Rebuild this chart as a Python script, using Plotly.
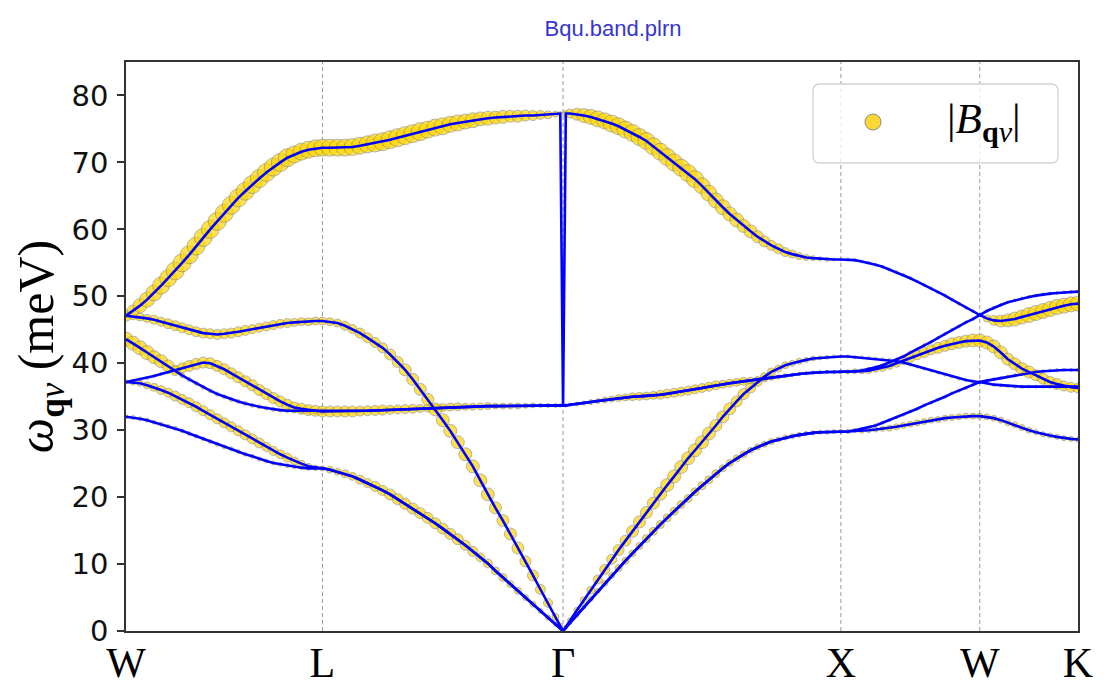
import numpy as np
import plotly.graph_objects as go

# ---- high-symmetry path (k-distance in units of 2*pi/a) ----
labels = ["W", "L", "Γ", "X", "W", "K"]
kW0 = 0.0
kL = np.sqrt(2) / 2
kG = kL + np.sqrt(3) / 2
kX = kG + 1.0
kW2 = kX + 0.5
kK = kW2 + np.sqrt(2) / 4
sym_k = [kW0, kL, kG, kX, kW2, kK]

kpath = np.concatenate([
    np.linspace(kW0, kL, 29),
    np.linspace(kL, kG, 33)[1:-1],
    [kG - 0.01, kG, kG + 0.01],
    np.linspace(kG, kX, 41)[1:],
    np.linspace(kX, kW2, 21)[1:],
    np.linspace(kW2, kK, 15)[1:],
])

# ---- phonon energies (meV): W-L | L-G | G-X | X-W | W-K ----
band6 = [47.1, 47.8, 48.6, 49.5, 50.5, 51.6, 52.7, 53.8, 55.0, 56.2, 57.5, 58.8, 60.0, 61.2, 62.4, 63.6, 64.7, 65.7, 66.7, 67.6, 68.5, 69.3, 70.0, 70.7, 71.2, 71.6, 71.9, 72.1, 72.2,
         72.2, 72.2, 72.2, 72.3, 72.5, 72.7, 72.9, 73.1, 73.4, 73.7, 74.0, 74.3, 74.6, 74.9, 75.2, 75.4, 75.7, 75.9, 76.1, 76.3, 76.5, 76.6, 76.7, 76.8, 76.9, 76.9, 77.0, 77.0, 77.1, 77.1, 77.2, 77.3, 33.7,
         77.3, 77.3, 77.2, 77.0, 76.8, 76.5, 76.2, 75.8, 75.4, 74.9, 74.4, 73.8, 73.2, 72.4, 71.6, 70.8, 70.0, 69.2, 68.4, 67.5, 66.5, 65.4, 64.3, 63.3, 62.3, 61.4, 60.5, 59.7, 58.9, 58.2, 57.6, 57.1, 56.6, 56.3, 56.0, 55.8, 55.7, 55.6, 55.5, 55.5, 55.5,
         55.5, 55.4, 55.2, 55.0, 54.7, 54.4, 54.0, 53.6, 53.2, 52.7, 52.2, 51.7, 51.2, 50.6, 50.1, 49.5, 48.9, 48.3, 47.8, 47.2,
         47.8, 48.3, 48.7, 49.1, 49.4, 49.7, 49.9, 50.1, 50.3, 50.4, 50.5, 50.6, 50.7, 50.7]
band5 = [47.1, 47.0, 46.9, 46.7, 46.5, 46.2, 45.9, 45.6, 45.3, 45.0, 44.7, 44.5, 44.4, 44.3, 44.4, 44.5, 44.7, 44.9, 45.1, 45.3, 45.5, 45.7, 45.9, 46.0, 46.1, 46.2, 46.2, 46.3, 46.3,
         46.2, 46.0, 45.6, 45.1, 44.5, 43.8, 43.1, 42.3, 41.3, 40.2, 39.0, 37.6, 36.1, 34.6, 33.1, 31.5, 29.9, 28.2, 26.4, 24.6, 22.5, 20.4, 18.4, 16.5, 14.5, 12.4, 10.4, 8.3, 6.2, 4.2, 2.1, 0.8, 0.0,
         0.6, 1.6, 3.1, 4.6, 6.1, 7.7, 9.2, 10.7, 12.1, 13.5, 14.9, 16.3, 17.7, 19.1, 20.5, 21.8, 23.1, 24.5, 25.8, 27.0, 28.2, 29.5, 30.7, 32.0, 33.2, 34.3, 35.4, 36.3, 37.2, 38.0, 38.7, 39.2, 39.7, 40.0, 40.3, 40.5, 40.7, 40.8, 40.9, 41.0, 41.0,
         41.0, 40.9, 40.9, 40.8, 40.7, 40.6, 40.5, 40.3, 40.1, 39.8, 39.5, 39.2, 38.9, 38.6, 38.3, 38.0, 37.7, 37.5, 37.3, 37.2,
         37.0, 36.8, 36.7, 36.6, 36.5, 36.5, 36.5, 36.5, 36.5, 36.5, 36.5, 36.5, 36.5, 36.5]
band4 = [43.6, 43.0, 42.3, 41.6, 40.9, 40.3, 39.6, 38.9, 38.2, 37.6, 37.0, 36.4, 35.9, 35.4, 35.0, 34.6, 34.3, 34.0, 33.7, 33.5, 33.3, 33.1, 33.0, 32.9, 32.9, 32.8, 32.8, 32.8, 32.8,
         32.8, 32.8, 32.8, 32.8, 32.85, 32.9, 32.95, 33.0, 33.05, 33.1, 33.15, 33.2, 33.25, 33.3, 33.35, 33.4, 33.45, 33.5, 33.5, 33.5, 33.55, 33.6, 33.6, 33.6, 33.6, 33.6, 33.65, 33.7, 33.7, 33.7, 33.7, 33.7, 33.7,
         33.7, 33.8, 33.9, 34.05, 34.2, 34.35, 34.5, 34.65, 34.8, 34.9, 35.0, 35.05, 35.1, 35.2, 35.3, 35.45, 35.6, 35.75, 35.9, 36.1, 36.3, 36.5, 36.7, 36.85, 37.0, 37.15, 37.3, 37.4, 37.5, 37.65, 37.8, 37.95, 38.1, 38.25, 38.4, 38.5, 38.6, 38.65, 38.7, 38.7, 38.7,
         38.7, 38.8, 38.9, 39.1, 39.4, 39.7, 40.1, 40.5, 41.0, 41.6, 42.1, 42.7, 43.2, 43.8, 44.4, 45.0, 45.5, 46.1, 46.6, 47.2,
         46.7, 46.4, 46.3, 46.4, 46.6, 46.9, 47.2, 47.5, 47.8, 48.1, 48.4, 48.6, 48.8, 48.9]
band3 = [37.2, 37.4, 37.6, 37.8, 38.1, 38.4, 38.7, 39.0, 39.3, 39.6, 39.9, 40.1, 40.0, 39.6, 39.1, 38.5, 37.9, 37.3, 36.7, 36.0, 35.4, 34.8, 34.3, 33.8, 33.4, 33.2, 33.0, 32.9, 32.8,
         32.8, 32.8, 32.8, 32.8, 32.85, 32.9, 32.95, 33.0, 33.05, 33.1, 33.15, 33.2, 33.25, 33.3, 33.35, 33.4, 33.45, 33.5, 33.5, 33.5, 33.55, 33.6, 33.6, 33.6, 33.6, 33.6, 33.65, 33.7, 33.7, 33.7, 33.7, 33.7, 33.7,
         33.7, 33.8, 33.9, 34.05, 34.2, 34.35, 34.5, 34.65, 34.8, 34.9, 35.0, 35.05, 35.1, 35.2, 35.3, 35.45, 35.6, 35.75, 35.9, 36.1, 36.3, 36.5, 36.7, 36.85, 37.0, 37.15, 37.3, 37.4, 37.5, 37.65, 37.8, 37.95, 38.1, 38.25, 38.4, 38.5, 38.6, 38.65, 38.7, 38.7, 38.7,
         38.7, 38.8, 38.8, 38.9, 39.1, 39.3, 39.6, 40.0, 40.4, 40.8, 41.2, 41.6, 42.0, 42.3, 42.6, 42.9, 43.1, 43.3, 43.4, 43.4,
         43.1, 42.5, 41.6, 40.6, 39.9, 39.2, 38.7, 38.2, 37.7, 37.2, 36.9, 36.6, 36.4, 36.3]
band2 = [37.2, 37.1, 37.0, 36.7, 36.4, 36.0, 35.6, 35.1, 34.6, 34.1, 33.5, 32.9, 32.3, 31.7, 31.1, 30.5, 29.9, 29.3, 28.7, 28.1, 27.5, 26.9, 26.4, 25.9, 25.4, 25.0, 24.6, 24.4, 24.3,
         24.1, 23.8, 23.5, 23.1, 22.6, 22.1, 21.6, 21.0, 20.4, 19.7, 19.0, 18.3, 17.6, 16.9, 16.1, 15.3, 14.5, 13.7, 12.8, 11.9, 11.0, 10.1, 9.0, 8.0, 7.0, 6.0, 5.0, 4.0, 3.0, 2.0, 1.0, 0.4, 0.0,
         0.5, 1.2, 2.4, 3.6, 4.8, 6.0, 7.1, 8.3, 9.4, 10.5, 11.6, 12.7, 13.8, 14.9, 15.9, 16.9, 17.9, 18.9, 19.8, 20.8, 21.7, 22.6, 23.5, 24.3, 25.1, 25.8, 26.4, 27.0, 27.5, 27.9, 28.3, 28.6, 28.9, 29.1, 29.3, 29.5, 29.6, 29.7, 29.7, 29.8, 29.8,
         29.8, 30.0, 30.2, 30.4, 30.7, 31.1, 31.5, 31.9, 32.3, 32.8, 33.2, 33.7, 34.1, 34.6, 35.0, 35.5, 35.9, 36.3, 36.8, 37.2,
         37.4, 37.6, 37.8, 38.0, 38.2, 38.4, 38.6, 38.7, 38.8, 38.9, 39.0, 39.0, 39.0, 39.0]
band1 = [32.0, 31.9, 31.7, 31.5, 31.2, 30.9, 30.6, 30.3, 29.9, 29.5, 29.1, 28.7, 28.3, 27.9, 27.5, 27.2, 26.8, 26.4, 26.1, 25.7, 25.4, 25.1, 24.9, 24.7, 24.5, 24.4, 24.3, 24.3, 24.3,
         24.1, 23.8, 23.5, 23.1, 22.6, 22.1, 21.6, 21.0, 20.4, 19.7, 19.0, 18.3, 17.6, 16.9, 16.1, 15.3, 14.5, 13.7, 12.8, 11.9, 11.0, 10.1, 9.0, 8.0, 7.0, 6.0, 5.0, 4.0, 3.0, 2.0, 1.0, 0.4, 0.0,
         0.5, 1.2, 2.4, 3.6, 4.8, 6.0, 7.1, 8.3, 9.4, 10.5, 11.6, 12.7, 13.8, 14.9, 15.9, 16.9, 17.9, 18.9, 19.8, 20.8, 21.7, 22.6, 23.5, 24.3, 25.1, 25.8, 26.4, 27.0, 27.5, 27.9, 28.3, 28.6, 28.9, 29.1, 29.3, 29.5, 29.6, 29.7, 29.7, 29.8, 29.8,
         29.8, 29.9, 29.9, 30.0, 30.1, 30.2, 30.3, 30.5, 30.7, 30.9, 31.1, 31.3, 31.5, 31.6, 31.8, 31.9, 32.0, 32.1, 32.1, 32.1,
         32.0, 31.8, 31.5, 31.1, 30.8, 30.4, 30.0, 29.7, 29.4, 29.2, 29.0, 28.8, 28.7, 28.6]

# ---- |B_q nu| per point, drawn as marker diameter (px) ----
bq6 = ([11, 12, 14, 15, 16, 17, 17, 18, 18, 18, 18, 18, 18, 18, 18, 18, 18, 18, 18, 18, 18, 18, 18, 18, 17, 17, 17, 17, 17] +
       [17, 17, 17, 17, 17, 17, 18, 18, 18, 18, 18, 18, 18, 17, 17, 17, 16, 16, 15, 15, 14, 14, 13, 13, 12, 12, 11, 10, 9, 8, 6, 4, 1] +
       [6, 9, 12, 14, 15, 16, 16, 17, 17, 17, 17, 17, 17, 17, 17, 17, 17, 17, 17, 17, 16, 16, 15, 15, 14, 14, 13, 13, 12, 11, 10, 10, 9, 8, 7, 6, 5, 4, 4, 3, 3] +
       [3] * 20 + [3] * 14)
bq5 = ([6, 7, 8, 8, 9, 9, 10, 10, 10, 10, 10, 10, 10, 10, 10, 10, 10, 10, 9, 9, 9, 9, 9, 9, 8, 8, 8, 8, 8] +
       [8, 8, 9, 9, 10, 10, 10, 10, 11, 11, 12, 12, 12, 12, 13, 13, 13, 13, 13, 13, 13, 13, 12, 12, 12, 12, 11, 11, 10, 9, 7, 5, 1] +
       [4, 5, 6, 7, 8, 9, 10, 10, 11, 11, 12, 12, 12, 12, 13, 13, 13, 13, 13, 13, 13, 13, 12, 12, 12, 11, 11, 10, 9, 8, 8, 7, 7, 6, 6, 5, 5, 4, 4, 3, 3] +
       [3] * 20 + [3] * 14)
bq4 = ([14, 14, 14, 14, 13, 13, 12, 10, 5, 4, 4, 4, 4, 4, 4, 4, 4, 4, 4, 4, 4, 4, 4, 4, 4, 4, 4, 5, 5] +
       [11, 11, 11, 11, 10, 10, 10, 10, 9, 9, 9, 9, 8, 8, 8, 8, 8, 8, 7, 7, 7, 7, 6, 6, 6, 6, 5, 5, 4, 4, 4, 3, 2] +
       [3] * 41 + [3] * 20 +
       [7, 10, 12, 13, 14, 14, 15, 15, 15, 15, 15, 15, 15, 15])
bq3 = ([3, 3, 3, 3, 3, 3, 4, 8, 10, 11, 11, 11, 11, 11, 11, 11, 11, 11, 11, 11, 11, 11, 11, 11, 11, 11, 11, 11, 11] +
       [3] * 32 + [2] +
       [3, 3, 4, 4, 5, 5, 6, 6, 7, 7, 8, 8, 8, 8, 9, 9, 9, 9, 9, 9, 9, 9, 9, 8, 8, 8, 8, 7, 7, 6, 5, 4, 4, 3, 3, 3, 3, 3, 3, 3, 4] +
       [4, 5, 5, 6, 6, 7, 7, 8, 8, 9, 9, 10, 10, 11, 11, 12, 12, 12, 13, 13] +
       [13, 13, 13, 12, 12, 12, 12, 11, 11, 11, 11, 10, 10, 10])
bq2 = ([4, 5, 6, 7, 8, 9, 9, 10, 10, 10, 10, 10, 10, 10, 10, 10, 10, 10, 10, 10, 9, 9, 9, 9, 8, 7, 6, 5, 5] +
       [7, 7, 8, 8, 9, 9, 10, 10, 11, 11, 11, 11, 11, 11, 11, 11, 11, 11, 10, 10, 9, 9, 8, 8, 7, 7, 6, 6, 5, 5, 4, 3, 1] +
       [3, 3, 4, 4, 5, 5, 6, 6, 7, 7, 7, 7, 8, 8, 8, 8, 8, 8, 8, 8, 8, 8, 8, 7, 7, 7, 7, 6, 6, 6, 6, 5, 5, 5, 5, 4, 4, 4, 4, 4, 4] +
       [3] * 20 + [3] * 14)
bq1 = ([4] * 29 +
       [3] * 31 + [2, 1] +
       [2] + [3] * 39 + [4] +
       [4, 4, 5, 5, 5, 5, 6, 6, 6, 6, 6, 6, 6, 6, 6, 6, 6, 6, 6, 6] +
       [6] * 7 + [5] * 7)

bands = [band1, band2, band3, band4, band5, band6]
bsizes = [bq1, bq2, bq3, bq4, bq5, bq6]

GOLD = "#FFD700"
EDGE = "rgba(120,120,120,0.75)"

fig = go.Figure()
for b, s in zip(bands, bsizes):
    fig.add_trace(go.Scatter(x=kpath, y=b, mode="markers", showlegend=False, hoverinfo="skip",
                             marker=dict(size=s, color=GOLD, line=dict(color=EDGE, width=1))))
for b in bands:
    fig.add_trace(go.Scatter(x=kpath, y=b, mode="lines", showlegend=False,
                             line=dict(color="#0000FF", width=2.6)))

shapes = []
for kv in sym_k[1:-1]:
    shapes.append(dict(type="line", xref="x", yref="paper", x0=kv, x1=kv, y0=0, y1=1,
                       line=dict(color="#999999", width=1, dash="4px,3px"), layer="below"))

# legend frame (rounded) in paper coords; plot area = 952 x 569 px (screen x 126..1078, y 62..631)
PW, PH = 952.0, 569.0
def px(xp):
    return (xp - 126) / PW
def py(yp):
    return (631 - yp) / PH
x0, x1, y0, y1, r = 813, 1058, 84, 163, 7
path = (f"M {px(x0 + r)},{py(y0)} L {px(x1 - r)},{py(y0)} Q {px(x1)},{py(y0)} {px(x1)},{py(y0 + r)} "
        f"L {px(x1)},{py(y1 - r)} Q {px(x1)},{py(y1)} {px(x1 - r)},{py(y1)} "
        f"L {px(x0 + r)},{py(y1)} Q {px(x0)},{py(y1)} {px(x0)},{py(y1 - r)} "
        f"L {px(x0)},{py(y0 + r)} Q {px(x0)},{py(y0)} {px(x0 + r)},{py(y0)} Z")
shapes.append(dict(type="path", xref="paper", yref="paper", path=path,
                   fillcolor="rgba(255,255,255,0.8)", line=dict(color="#d3d3d3", width=1.3), layer="above"))
shapes.append(dict(type="circle", xref="paper", yref="paper",
                   x0=px(865), x1=px(881), y0=py(130), y1=py(114),
                   fillcolor="#FDD835", line=dict(color="#8c8c8c", width=1), layer="above"))

# page body adds an 8 px offset, so figure coords = screen coords - 8
OFF = 8
fig.update_layout(
    width=1113, height=682,
    margin=dict(l=126 - OFF, r=1113 - 1078 + OFF, t=62 - OFF, b=682 - 631 + OFF, autoexpand=False),
    paper_bgcolor="white", plot_bgcolor="white",
    title=dict(text="Bqu.band.plrn", x=(613 - OFF) / 1113, xanchor="center", xref="container",
               y=1 - (28 - OFF) / 682, yanchor="middle", yref="container",
               font=dict(family="Liberation Sans", size=22, color="#3535CF")),
    shapes=shapes,
    annotations=[dict(text="|<i>B</i><sub><b>q</b><i>ν</i></sub>|", xref="paper", yref="paper",
                      x=px(945), y=py(122), xanchor="left", yanchor="middle", showarrow=False,
                      font=dict(family="Liberation Serif", size=43, color="black"))],
    showlegend=False,
)
fig.update_xaxes(range=[0, kK], tickmode="array", tickvals=sym_k, ticktext=labels,
                 tickfont=dict(family="Liberation Serif", size=42, color="black"),
                 ticks="", ticklen=0, showgrid=False, zeroline=False, showline=True, mirror=True,
                 linecolor="#333333", linewidth=1.5, ticklabelstandoff=-6, automargin=False)
fig.update_yaxes(range=[0, 85], tickmode="linear", tick0=0, dtick=10,
                 tickfont=dict(family="DejaVu Sans", size=29, color="#111111"),
                 ticks="outside", ticklen=7, tickwidth=1.5, tickcolor="#333333",
                 showgrid=False, zeroline=False, showline=True, mirror=True,
                 linecolor="#333333", linewidth=1.5, automargin=False, ticklabelstandoff=3,
                 title=dict(text="<i>ω</i><sub><b>q</b><i>ν</i></sub> (meV)", standoff=19,
                            font=dict(family="Liberation Serif", size=50, color="black")))

fig.write_html("out.html")
